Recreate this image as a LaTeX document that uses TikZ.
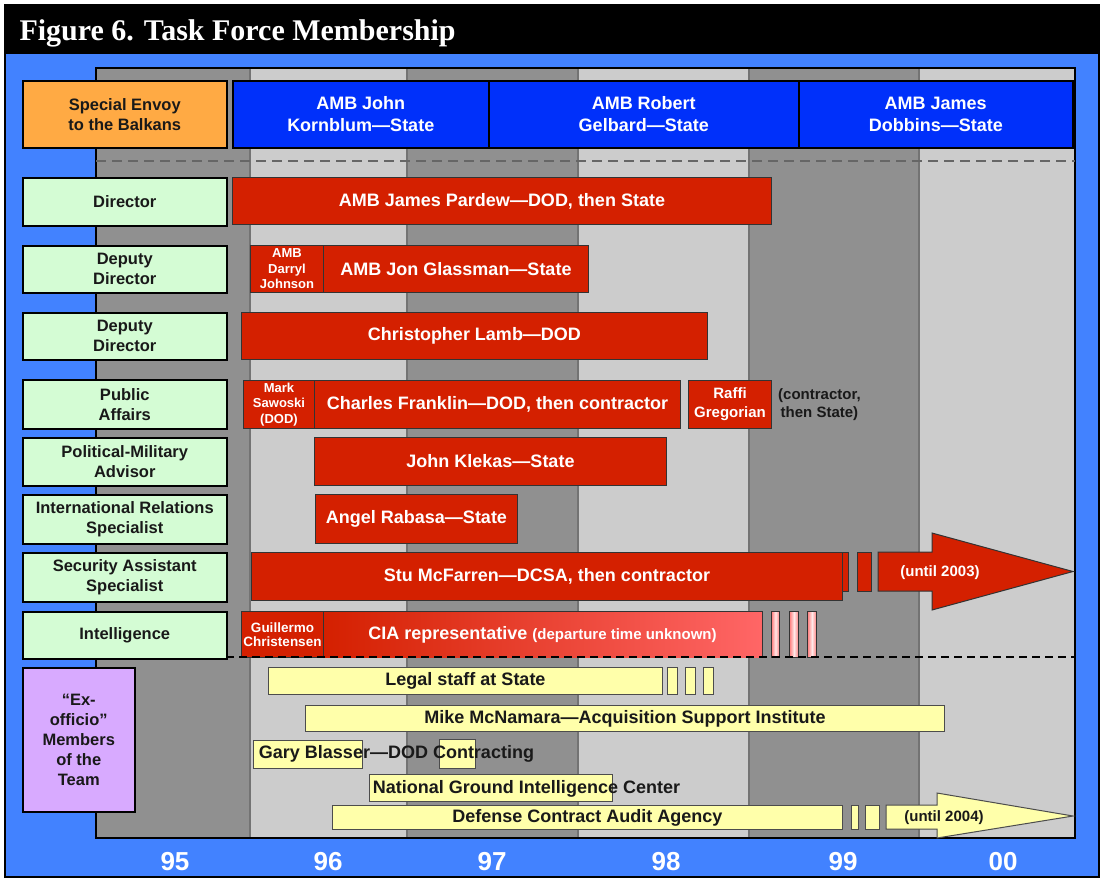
\documentclass[tikz,border=0pt]{standalone}
\usepackage{fontspec}
\setmainfont{Liberation Sans}
\newfontfamily\titleserif{Liberation Serif}
\usetikzlibrary{positioning}
\usetikzlibrary{calc}
\definecolor{bgblue}{RGB}{66,130,255}
\definecolor{hdblue}{RGB}{0,48,250}
\definecolor{envoyorange}{RGB}{255,170,68}
\definecolor{rolegreen}{RGB}{212,252,212}
\definecolor{exlilac}{RGB}{216,170,255}
\definecolor{tfred}{RGB}{212,32,0}
\definecolor{tfpink}{RGB}{255,102,102}
\definecolor{darkband}{RGB}{144,144,144}
\definecolor{lightband}{RGB}{204,204,204}
\definecolor{exyellow}{RGB}{255,255,170}
\tikzset{role/.style={draw=black, line width=1.5pt, fill=rolegreen, align=center, inner sep=1pt, text=black!90, font=\fontsize{16.5}{20}\selectfont\bfseries}}
\tikzset{envoy/.style={role, fill=envoyorange}}
\tikzset{exrole/.style={role, fill=exlilac}}
\tikzset{hdbox/.style={role, fill=hdblue, text=white, font=\fontsize{18}{22}\selectfont\bfseries}}
\tikzset{redbar/.style={draw=black!80, line width=1pt, fill=tfred, text=white, align=center, inner sep=1pt, font=\fontsize{18}{21}\selectfont\bfseries}}
\tikzset{smallred/.style={redbar, font=\fontsize{13}{15.5}\selectfont\bfseries}}
\tikzset{midred/.style={redbar, font=\fontsize{15}{19}\selectfont\bfseries}}
\tikzset{fadebar/.style={redbar, draw=none, left color=tfred, right color=tfpink}}
\tikzset{fadebreak/.style={draw=black!80, line width=1pt, left color=tfpink!85, right color=tfpink!85, middle color=white!85!tfpink}}
\tikzset{yelbar/.style={draw=black!70, line width=1pt, fill=exyellow, inner sep=1pt, text=black!90, font=\fontsize{18}{21}\selectfont\bfseries}}
\tikzset{yeltext/.style={text=black!90, inner sep=0pt, font=\fontsize{18}{21}\selectfont\bfseries}}
\tikzset{untiltext/.style={inner sep=0pt, font=\fontsize{15}{18}\selectfont\bfseries}}
\tikzset{yearlbl/.style={text=white, font=\fontsize{26}{28}\selectfont\bfseries}}
\newcommand{\tfbox}[7]{%
    \node[#1, anchor=north west, minimum width={#4-#3}, minimum height={#6-#5}] (#2) at (#3,#5) {#7};
}
\begin{document}
\begin{tikzpicture}[x=1pt,y=-1pt]
    \useasboundingbox (0,0) rectangle (1102,879);
    \fill[black] (4,4) rectangle (1100,878);
    \fill[bgblue] (6,54) rectangle (1098,876);
    \node[anchor=base west, text=white, font=\titleserif\bfseries\fontsize{30}{32}\selectfont] (title) at (16,40) {Figure 6. Task Force Membership};

    % year bands
    \fill[darkband] (96,68) rectangle (1075,838);
    \foreach \lx/\rx in {250/407,578/749,919/1075}
        \fill[lightband] (\lx,68) rectangle (\rx,838);
    \foreach \bx in {250,407,578,749,919}
        \draw[black!55, line width=1.2pt] (\bx,68) -- (\bx,838);
    \draw[line width=2pt] (96,68) rectangle (1075,838);
    \draw[black!60, line width=2pt, dash pattern=on 10pt off 6pt] (96,161) -- (1075,161);
    \foreach \yr/\yx in {95/175,96/328,97/492,98/666,99/843,00/1003}
        \node[yearlbl] (yr\yr) at (\yx,862) {\yr};

    % envoys
    \tfbox{envoy}{env}{22}{226}{80}{147}{Special Envoy\\to the Balkans}
    \tfbox{hdbox}{kornblum}{232}{488}{80}{147}{AMB John\\Kornblum—State}
    \tfbox{hdbox}{gelbard}{488}{798}{80}{147}{AMB Robert\\Gelbard—State}
    \tfbox{hdbox}{dobbins}{798}{1072}{80}{147}{AMB James\\Dobbins—State}

    % roles
    \tfbox{role}{dir}{22}{226}{177}{225}{Director}
    \tfbox{role}{ddir}{22}{226}{245}{292}{Deputy\\Director}
    \tfbox{role}{ddirb}{22}{226}{312}{359}{Deputy\\Director}
    \tfbox{role}{pa}{22}{226}{379}{428}{Public\\Affairs}
    \tfbox{role}{polmil}{22}{226}{437}{485}{Political-Military\\Advisor}
    \tfbox{role}{irs}{22}{226}{494}{543}{International Relations\\Specialist}
    \tfbox{role}{sas}{22}{226}{552}{601}{Security Assistant\\Specialist}
    \tfbox{role}{intel}{22}{226}{611}{658}{Intelligence}
    \tfbox{exrole}{exoff}{22}{134}{667}{811}{“Ex-\\officio”\\Members\\of the\\Team}

    % members
    \tfbox{redbar}{pardew}{232}{771}{177}{224}{AMB James Pardew—DOD, then State}
    \tfbox{smallred}{johnson}{250}{323}{245}{292}{AMB\\Darryl\\Johnson}
    \tfbox{redbar}{glassman}{323}{588}{245}{292}{AMB Jon Glassman—State}
    \tfbox{redbar}{lamb}{241}{707}{312}{359}{Christopher Lamb—DOD}
    \tfbox{smallred}{sawoski}{243}{314}{380}{428}{Mark\\Sawoski\\(DOD)}
    \tfbox{redbar}{franklin}{314}{680}{380}{428}{Charles Franklin—DOD, then contractor}
    \tfbox{midred}{gregorian}{688}{771}{380}{428}{Raffi\\Gregorian}
    \node[untiltext, align=center, text=black!90, right=6pt of gregorian] (gregnote) {(contractor,\\then State)};
    \tfbox{redbar}{klekas}{314}{666}{437}{485}{John Klekas—State}
    \tfbox{redbar}{rabasa}{315}{517}{494}{543}{Angel Rabasa—State}
    \tfbox{redbar}{mcfarren}{251}{842}{552}{600}{Stu McFarren—DCSA, then contractor}
    \tfbox{redbar}{mcfbreaka}{842}{848}{552}{591}{}
    \tfbox{redbar}{mcfbreakb}{857}{871}{552}{591}{}
    \draw[redbar] (878,552) -- (932,552) -- (932,533) -- (1073,571.5) -- (932,610) -- (932,591) -- (878,591) -- cycle;
    \node[untiltext, text=white] (until03) at (940,573) {(until 2003)};
    \tfbox{fadebar}{cia}{323}{761}{611}{657}{CIA representative \fontsize{15}{18}\selectfont(departure time unknown)}
    \draw[draw=black!80, line width=1pt] (cia.south west) |- (cia.north east) -- (cia.south east);
    \tfbox{smallred, font=\fontsize{13.5}{14.5}\selectfont\bfseries}{christensen}{241}{323}{611}{657}{Guillermo\\Christensen}
    \tfbox{fadebreak}{ciabreaka}{771}{779}{611}{657}{}
    \tfbox{fadebreak}{ciabreakb}{789}{798}{611}{657}{}
    \tfbox{fadebreak}{ciabreakc}{807}{816}{611}{657}{}
    \draw[black, line width=1.2pt, dash pattern=on 8pt off 5pt] (226,657) -- (1075,657);

    % ex-officio members
    \tfbox{yelbar}{legal}{268}{662}{667}{694}{Legal staff at State}
    \tfbox{yelbar}{legalbreaka}{667}{677}{667}{694}{}
    \tfbox{yelbar}{legalbreakb}{685}{695}{667}{694}{}
    \tfbox{yelbar}{legalbreakc}{703}{713}{667}{694}{}
    \tfbox{yelbar}{mcnamara}{305}{944}{705}{731}{Mike McNamara—Acquisition Support Institute}
    \tfbox{yelbar}{blassera}{253}{362}{740}{768}{}
    \tfbox{yelbar}{blasserb}{439}{475}{739}{768}{}
    \node[yeltext] (blasser) at (396.5,754) {Gary Blasser—DOD Contracting};
    \tfbox{yelbar}{ngic}{369}{612}{774}{801}{}
    \node[yeltext] (ngictext) at (526.5,789) {National Ground Intelligence Center};
    \tfbox{yelbar}{dcaa}{332}{842}{805}{829}{Defense Contract Audit Agency}
    \tfbox{yelbar}{dcaabreaka}{851}{858}{805}{829}{}
    \tfbox{yelbar}{dcaabreakb}{865}{879}{805}{829}{}
    \draw[yelbar] (886,805) -- (937,805) -- (937,793) -- (1073,816) -- (937,838) -- (937,829) -- (886,829) -- cycle;
    \node[untiltext, text=black!90] (until04) at (944,818) {(until 2004)};
\end{tikzpicture}
\end{document}
